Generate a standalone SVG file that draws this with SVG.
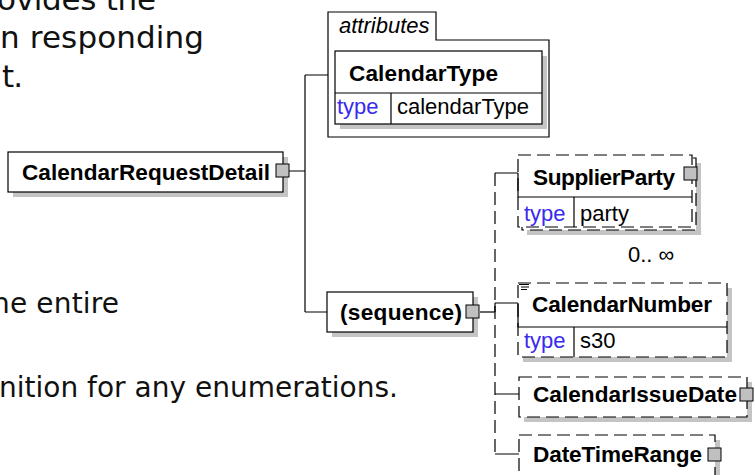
<svg xmlns="http://www.w3.org/2000/svg" width="755" height="475" viewBox="0 0 755 475">
<style>
.t{font-family:"Liberation Sans",Arial,sans-serif;font-size:22px;fill:#000}
.b{font-weight:bold;font-size:22.6px}
.i{font-style:italic}
.ty{fill:#3a2af0}
.p{font-family:"DejaVu Sans",Verdana,sans-serif;font-size:28px;fill:#111}
.pl{font-size:31px}
.box{fill:#fff;stroke:#000;stroke-width:1.2}
.dash{stroke-dasharray:13 6}
.sh{fill:#c4c4c4}
.btn{fill:#c0c0c0;stroke:#000;stroke-width:1}
.ln{stroke:#000;stroke-width:1.2;fill:none}
</style>
<rect width="755" height="475" fill="#fff"/>
<g id="paragraph">
<text class="p pl" x="-3" y="10" textLength="159" lengthAdjust="spacing">ovides the</text>
<text class="p pl" x="0" y="48" textLength="204" lengthAdjust="spacing">n responding</text>
<text class="p pl" x="2" y="87" textLength="21" lengthAdjust="spacing">t.</text>
<text class="p" x="-8" y="313" textLength="127" lengthAdjust="spacing">he entire</text>
<text class="p" x="-1" y="397" textLength="399" lengthAdjust="spacing">nition for any enumerations.</text>
</g>
<g id="connectors">
<path class="ln" d="M289,171 H305 M305,75 V312 M305,75 H328 M305,312 H327"/>
<path class="ln" d="M480,312 H495"/>
<path class="ln dash" d="M495,173 V454"/>
<path class="ln" d="M495,173 H518 M495,303 H518 M495,303 V312 M495,394 H519 M495,454 H519"/>
</g>
<g id="CalendarRequestDetail">
<rect class="sh" x="13" y="157" width="275" height="40"/>
<rect class="box" x="8" y="152" width="275" height="40"/>
<text class="t b" x="22" y="180" textLength="248" lengthAdjust="spacing">CalendarRequestDetail</text>
<rect class="btn" x="276" y="164" width="13" height="13"/>
</g>
<g id="attributes">
<path class="box" d="M328,12 H436 V40 H549 V137 H328 Z"/>
<text class="t i" x="339" y="33">attributes</text>
</g>
<g id="CalendarType">
<rect class="sh" x="340" y="56" width="207" height="73"/>
<rect class="box" x="335" y="51" width="207" height="73"/>
<path class="ln" d="M335,93 H542 M391,93 V124"/>
<text class="t b" x="349" y="81" textLength="149" lengthAdjust="spacing">CalendarType</text>
<text class="t ty" x="337" y="114">type</text>
<text class="t" x="397" y="114">calendarType</text>
</g>
<g id="sequence">
<rect class="sh" x="332" y="297" width="146" height="40"/>
<rect class="box" x="327" y="292" width="146" height="40"/>
<text class="t b" x="340" y="320" textLength="122" lengthAdjust="spacing">(sequence)</text>
<rect class="btn" x="466" y="305" width="13" height="13"/>
</g>
<g id="SupplierParty">
<rect class="sh" x="527" y="163" width="174" height="72"/>
<rect class="box dash" x="522" y="158" width="174" height="72"/>
<rect class="box dash" x="518" y="155" width="174" height="72"/>
<path class="ln" d="M518,173 V197 H692 M574,197 V227"/>
<text class="t b" x="533" y="185" textLength="142" lengthAdjust="spacing">SupplierParty</text>
<text class="t ty" x="524" y="221">type</text>
<text class="t" x="580" y="221">party</text>
<rect class="btn" x="684" y="167" width="13" height="13"/>
<text class="t" x="628" y="262" fill="#222">0.. ∞</text>
</g>
<g id="CalendarNumber">
<rect class="sh" x="523" y="288" width="209" height="74"/>
<rect class="box dash" x="518" y="283" width="209" height="74"/>
<path class="ln" d="M518,303 V327 H727 M574,327 V357"/>
<path class="ln" stroke-width="1" d="M519,284.5 H529 M521,287 H529 M521,289.5 H527"/>
<text class="t b" x="532" y="312" textLength="180" lengthAdjust="spacing">CalendarNumber</text>
<text class="t ty" x="524" y="348">type</text>
<text class="t" x="580" y="348">s30</text>
</g>
<g id="CalendarIssueDate">
<rect class="sh" x="524" y="382" width="228" height="40"/>
<rect class="box dash" x="519" y="377" width="228" height="40"/>
<text class="t b" x="533" y="402" textLength="204" lengthAdjust="spacing">CalendarIssueDate</text>
<rect class="btn" x="740" y="388" width="13" height="13"/>
</g>
<g id="DateTimeRange">
<rect class="sh" x="524" y="440" width="196" height="45"/>
<rect class="box dash" x="519" y="435" width="196" height="50"/>
<text class="t b" x="533" y="462" textLength="169" lengthAdjust="spacing">DateTimeRange</text>
<rect class="btn" x="708" y="448" width="13" height="13"/>
</g>
</svg>
